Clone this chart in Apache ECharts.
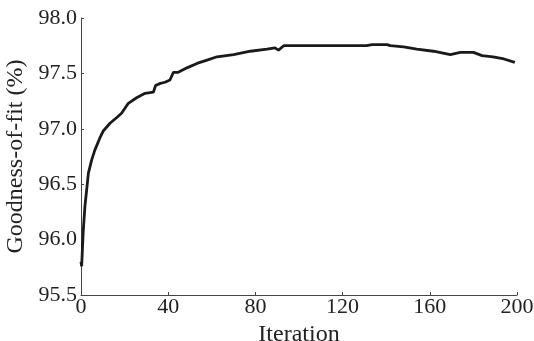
<!DOCTYPE html>
<html>
<head>
<meta charset="utf-8">
<script src="https://cdn.jsdelivr.net/npm/echarts@6/dist/echarts.min.js"></script>
<style>
  html, body { margin: 0; padding: 0; background: #fff; }
  #chart { width: 534px; height: 341px; }
</style>
</head>
<body>
<div id="chart"></div>
<script>
// Iteración y bondad de ajuste
const iterations = [
  0, 0.3, 1, 1.8, 2.6, 3.4, 4.9, 6.4, 8.7, 10.2, 13.3, 16.3, 18.6, 21.7, 25.5,
  29.4, 33.2, 34.2, 36.4, 38.5, 40.8, 42.4, 44.6, 48.6, 53.2, 57.8, 62.4, 70,
  77.7, 85.3, 89, 90.6, 93, 99, 110, 120, 131, 133.5, 140.4, 141.9, 148, 154,
  161.7, 169.4, 174, 180, 184, 189, 194, 199
];
const fitValues = [
  95.80, 95.76, 96.07, 96.30, 96.45, 96.60, 96.72, 96.81, 96.92, 96.98, 97.05,
  97.10, 97.14, 97.23, 97.28, 97.32, 97.33, 97.39, 97.41, 97.42, 97.44, 97.51,
  97.51, 97.55, 97.59, 97.62, 97.65, 97.67, 97.70, 97.72, 97.73, 97.71, 97.75,
  97.75, 97.75, 97.75, 97.75, 97.76, 97.76, 97.75, 97.74, 97.72, 97.70, 97.67,
  97.69, 97.69, 97.66, 97.65, 97.63, 97.60
];
const xTicks = { min: 0, max: 200, interval: 40 };
const yTicks = { min: 95.5, max: 98.0, interval: 0.5 };

const FONT = "'Liberation Serif', serif";
const dom = document.getElementById("chart");
const myChart = echarts.init(dom, undefined, { renderer: "canvas" });

const axisBase = {
  axisLine:  { show: true, lineStyle: { color: "#444", width: 1 } },
  axisTick:  { show: true, inside: true, length: 3, lineStyle: { color: "#444" } },
  splitLine: { show: false },
  nameTextStyle: { fontFamily: FONT, fontSize: 24, color: "#222" }
};

const option = {
  animation: false,
  grid: { left: 81, right: 17, top: 18, bottom: 46, containLabel: false, outerBoundsMode: "none" },
  xAxis: Object.assign({}, axisBase, {
    type: "value",
    min: xTicks.min, max: xTicks.max, interval: xTicks.interval,
    name: "Iteration",
    nameLocation: "middle",
    nameGap: 18,
    axisLabel: { fontFamily: FONT, fontSize: 22, color: "#222", margin: 1 }
  }),
  yAxis: Object.assign({}, axisBase, {
    type: "value",
    min: yTicks.min, max: yTicks.max, interval: yTicks.interval,
    name: "Goodness-of-fit (%)",
    nameLocation: "middle",
    nameGap: 50,
    axisLabel: {
      fontFamily: FONT, fontSize: 22, color: "#222", margin: 4,
      formatter: (v) => v.toFixed(1)
    }
  }),
  series: [{
    type: "line",
    data: iterations.map((x, i) => [x, fitValues[i]]),
    showSymbol: false,
    lineStyle: { color: "#1a1a1a", width: 2.8 }
  }]
};

myChart.setOption(option);
</script>
</body>
</html>
